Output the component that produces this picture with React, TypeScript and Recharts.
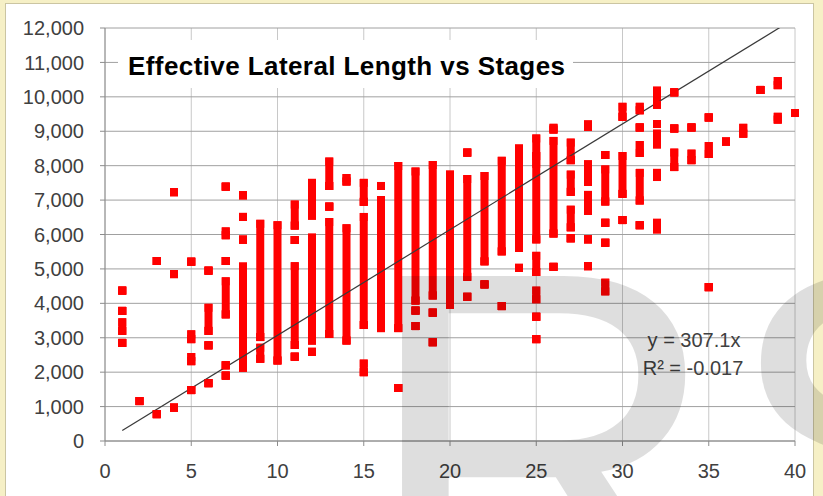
import {
  ScatterChart,
  Scatter,
  XAxis,
  YAxis,
  CartesianGrid,
  ErrorBar,
  ReferenceLine,
} from "recharts";

// stage counts on the x axis
const stages = [
  1, 2, 3, 4, 5, 6, 7, 8, 9, 10, 11, 12, 13, 14, 15, 16, 17, 18, 19, 20, 21,
  22, 23, 24, 25, 26, 27, 28, 29, 30, 31, 32, 33, 34, 35, 36, 37, 38, 39, 40,
];

// effective lateral length (ft) per stage count: single wells, or [low, high]
// runs where the wells stack into a solid column
const lateralRuns: (number | [number, number])[][] = [
  [4370, 3780, [3200, 3450], 2850],
  [1160],
  [5230, 780],
  [7230, 4850, 970],
  [5210, [2960, 3100], [2320, 2440], 1480],
  [4950, [3200, 3870], 2780, 1680],
  [7390, [5980, 6090], 5230, [3680, 4640], 2200, 1900],
  [7140, 6510, 5850, [2130, 5070]],
  [[3020, 6310], [2390, 2710]],
  [[2340, 6270]],
  [[6260, 6870], 5840, [2790, 5080], 2450],
  [[6550, 7500], [2920, 5910], 2590],
  [[7410, 8120], 6810, [3110, 6360]],
  [[7540, 7640], [2920, 6180]],
  [[6950, 7500], [3370, 6510], [2000, 2250]],
  [7410, [3280, 7000]],
  [[3280, 7990], 1540],
  [[4080, 7830], 3790, 3340],
  [[4230, 8020], 3730, 2870],
  [[3960, 7740]],
  [8380, [4770, 7610], 4190],
  [[5220, 7700], 4550],
  [[5510, 8140], 3920],
  [[5610, 8500], 5030],
  [[8280, 8790], [5860, 8050], [4910, 5380], [4120, 4370], 3610, 2960],
  [[9050, 9100], [6030, 8720], 5060],
  [[8160, 8670], [7240, 7740], [6210, 6720], 5890],
  [[9130, 9200], [7530, 8040], [6690, 7150], 5860, 5080],
  [8310, [6960, 7890], 6340, 5760, [4350, 4600]],
  [[9420, 9710], [7180, 8280], 6420],
  [[9610, 9710], 9110, [8370, 8600], [6990, 7790], 6270],
  [[9770, 10180], 9210, [8620, 8930], [7670, 7790], [6150, 6340]],
  [10130, 9080, [7960, 8380]],
  [9110, [8160, 8350]],
  [9400, [8340, 8570], 4470],
  [8700],
  [[8930, 9100]],
  [10200],
  [[10340, 10460], [9340, 9420]],
  [9530],
];

const xTicks = [0, 5, 10, 15, 20, 25, 30, 35, 40];
const yTicks = [
  0, 1000, 2000, 3000, 4000, 5000, 6000, 7000, 8000, 9000, 10000, 11000, 12000,
];

// linear trendline through the origin, fitted over stages 1..40
const trendSlope = 307.1;
const trendRSquared = "-0.017";
const trendFrom = 1;
const trendTo = 40;

const RED = "#ff0000";
const FONT = "'Liberation Sans', Arial, sans-serif";
const MARK = 8;

const points = stages.flatMap((stage, i) =>
  lateralRuns[i].map((run) => {
    const [lo, hi] = Array.isArray(run) ? run : [run, run];
    return { stage, length: lo, span: [0, hi - lo] };
  })
);

const spanOf = (d: any) => (d.payload ?? d).span;

const Square = (p: any) => (
  <rect
    x={p.cx - MARK / 2}
    y={p.cy - MARK / 2}
    width={MARK}
    height={MARK}
    fill={RED}
  />
);

export default function App() {
  const tick = { fill: "#404040", fontSize: 20, fontFamily: FONT };
  return (
    <div
      style={{
        position: "absolute",
        left: 0,
        top: 0,
        width: 823,
        height: 496,
        overflow: "hidden",
        background: "#f6f0c6",
      }}
    >
      <div
        style={{
          position: "absolute",
          left: 5,
          top: 3,
          width: 807,
          height: 500,
          background: "#ffffff",
          border: "1px solid #cbc5a2",
        }}
      />
      <div style={{ position: "absolute", left: 0, top: 0 }}>
        <ScatterChart
          width={823}
          height={496}
          margin={{ top: 28, right: 28, bottom: 25, left: 0 }}
        >
          <CartesianGrid
            horizontal={false}
            stroke="#c8c8c8"
            strokeWidth={1}
          />
          <CartesianGrid vertical={false} stroke="#a0a0a0" strokeWidth={1} />
          <XAxis
            type="number"
            dataKey="stage"
            domain={[0, 40]}
            ticks={xTicks}
            height={30}
            tickSize={5}
            tickMargin={18}
            tick={tick}
            stroke="#8c8c8c"
          />
          <YAxis
            type="number"
            dataKey="length"
            domain={[0, 12000]}
            allowDataOverflow
            ticks={yTicks}
            width={105}
            tickSize={5}
            tickMargin={16}
            tick={tick}
            stroke="#8c8c8c"
            tickFormatter={(v: number) => v.toLocaleString("en-US")}
          />
          <Scatter
            data={points}
            fill={RED}
            shape={Square}
            isAnimationActive={false}
          >
            <ErrorBar
              dataKey={spanOf}
              direction="y"
              width={0}
              stroke={RED}
              strokeWidth={MARK}
              strokeLinecap="square"
              isAnimationActive={false}
            />
          </Scatter>
          <ReferenceLine
            segment={[
              { x: trendFrom, y: trendSlope * trendFrom },
              { x: trendTo, y: trendSlope * trendTo },
            ]}
            stroke="#3a3a3a"
            strokeWidth={1.2}
            ifOverflow="hidden"
          />
        </ScatterChart>
      </div>
      <svg
        width={823}
        height={496}
        style={{ position: "absolute", left: 0, top: 0, pointerEvents: "none" }}
      >
        <rect x={118} y={40} width={455} height={48} fill="#ffffff" />
        <text
          x={128}
          y={75}
          fontFamily={FONT}
          fontWeight="bold"
          fontSize={26}
          fill="#000000"
          textLength={437}
          lengthAdjust="spacing"
        >
          Effective Lateral Length vs Stages
        </text>
        <text
          x={694}
          y={347}
          textAnchor="middle"
          fontFamily={FONT}
          fontSize={20}
          fill="#404040"
        >
          {`y = ${trendSlope}x`}
        </text>
        <text
          x={693}
          y={375}
          textAnchor="middle"
          fontFamily={FONT}
          fontSize={20}
          fill="#404040"
        >
          {`R² = ${trendRSquared}`}
        </text>
        <text
          x={361}
          y={620}
          fontFamily={FONT}
          fontSize={500}
          fill="rgba(0,0,0,0.13)"
        >
          RS
        </text>
      </svg>
    </div>
  );
}
